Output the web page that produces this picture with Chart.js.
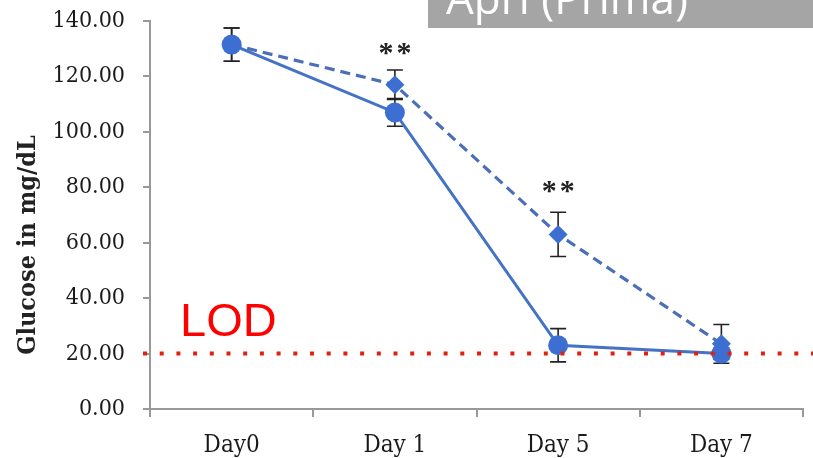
<!DOCTYPE html>
<html>
<head>
    <title>Glucose</title>
    <meta charset="utf-8">
    <style>
        body{ margin:0; background:#fff;}
    </style>
    <script src="https://cdn.jsdelivr.net/npm/chart.js@4.4.0/dist/chart.umd.min.js"></script>
</head>
<body>
    <canvas id="myChart" width="813" height="458"></canvas>

    <script>
        // data
        var days = ['Day0', 'Day 1', 'Day 5', 'Day 7'];
        var solidVals = [131.5, 107, 23, 20];
        var solidErr = [6, 5, 6, 2];
        var dashVals = [131.5, 117, 63, 23.5];
        var dashErr = [6, 5.3, 8, 7];
        var starVals = [null, 130, 80, null];   // where the ** sit
        var yTicks = [0, 20, 40, 60, 80, 100, 120, 140];
        var lodValue = 20;

        var serif = "'DejaVu Serif Condensed', 'Liberation Serif', serif";

        // error bars, drawn under the markers
        const errorBars = {
            id: 'errorBars',
            beforeDatasetsDraw(chart) {
                const ctx = chart.ctx;
                const y = chart.scales.y;
                const sets = [[0, solidVals, solidErr], [1, dashVals, dashErr]];
                ctx.save();
                ctx.strokeStyle = '#222';
                ctx.lineWidth = 1.6;
                sets.forEach(function(s){
                    const meta = chart.getDatasetMeta(s[0]);
                    meta.data.forEach(function(pt, i){
                        const top = y.getPixelForValue(s[1][i] + s[2][i]);
                        const bot = y.getPixelForValue(s[1][i] - s[2][i]);
                        ctx.beginPath();
                        ctx.moveTo(pt.x, top); ctx.lineTo(pt.x, bot);
                        ctx.moveTo(pt.x - 8, top); ctx.lineTo(pt.x + 8, top);
                        ctx.moveTo(pt.x - 8, bot); ctx.lineTo(pt.x + 8, bot);
                        ctx.stroke();
                    });
                });
                ctx.restore();
            }
        };

        // LOD line, stars, labels and the grey box
        const extras = {
            id: 'extras',
            afterDatasetsDraw(chart) {
                const ctx = chart.ctx;
                const x = chart.scales.x;
                const y = chart.scales.y;
                const area = chart.chartArea;
                ctx.save();

                // dotted LOD line
                const ly = y.getPixelForValue(lodValue);
                ctx.strokeStyle = '#e3200f';
                ctx.lineWidth = 4;
                ctx.setLineDash([4, 12.7]);
                ctx.beginPath();
                ctx.moveTo(area.left - 7, ly);
                ctx.lineTo(chart.width, ly);
                ctx.stroke();
                ctx.setLineDash([]);

                ctx.fillStyle = '#ff0000';
                ctx.font = "47px 'Liberation Sans', Arial, sans-serif";
                ctx.textAlign = 'left';
                ctx.textBaseline = 'alphabetic';
                ctx.fillText('LOD', area.left + 30, ly - 18);

                // significance stars
                ctx.fillStyle = '#222';
                ctx.font = "bold 30px 'Liberation Serif', serif";
                ctx.textAlign = 'center';
                starVals.forEach(function(v, i){
                    if (v === null) return;
                    const px = x.getPixelForValue(i);
                    const py = y.getPixelForValue(v) + 13;
                    ctx.fillText('*', px - 9, py);
                    ctx.fillText('*', px + 9, py);
                });

                // y title
                ctx.save();
                ctx.translate(28, 245);
                ctx.rotate(-Math.PI / 2);
                ctx.fillStyle = '#222';
                ctx.font = "bold 25px " + serif;
                ctx.textAlign = 'center';
                ctx.textBaseline = 'middle';
                ctx.fillText('Glucose in mg/dL', 0, 0);
                ctx.restore();

                // grey box top right
                ctx.fillStyle = '#a5a5a5';
                ctx.fillRect(428, 0, chart.width - 428, 28);
                ctx.fillStyle = '#ffffff';
                ctx.font = "44px 'Open Sans', sans-serif";
                ctx.textAlign = 'left';
                ctx.fillText('Apri (Prima)', 446, 14);

                ctx.restore();
            }
        };

        const chartdata = {
            labels: days,
            datasets: [{
                label: 'solid',
                data: solidVals,
                borderColor: '#4472c4',
                backgroundColor: '#3d6fd2',
                borderWidth: 3,
                pointStyle: 'circle',
                pointRadius: 10,
                pointBorderWidth: 0,
                tension: 0
            },
            {
                label: 'dashed',
                data: dashVals,
                borderColor: '#4a6fb8',
                backgroundColor: '#3d6fd2',
                borderWidth: 3.2,
                borderDash: [10, 6],
                pointStyle: 'rectRot',
                pointRadius: 9.5,
                pointBorderWidth: 0,
                tension: 0
            }]
        };

        const config = {
            type: 'line',
            data: chartdata,
            options: {
                animation: false,
                responsive: false,
                layout: { padding: { top: 21, right: 9, left: 0, bottom: 0 } },
                plugins: { legend: { display: false }, tooltip: { enabled: false } },
                scales: {
                    x: {
                        offset: true,
                        grid: { offset: true, drawOnChartArea: false, drawTicks: true, tickLength: 8, color: '#999', lineWidth: 2 },
                        border: { display: true, color: '#999', width: 2 },
                        ticks: { color: '#1a1a1a', padding: 14, font: { family: serif, size: 24 } },
                        afterFit: function(s){ s.height = 49; s.paddingLeft = 0; s.paddingRight = 0; }
                    },
                    y: {
                        min: 0,
                        max: 140,
                        afterBuildTicks: function(s){ s.ticks = yTicks.map(function(v){ return { value: v }; }); },
                        grid: { drawOnChartArea: false, drawTicks: true, tickLength: 7, color: '#999', lineWidth: 2 },
                        border: { display: true, color: '#999', width: 2 },
                        ticks: {
                            color: '#1a1a1a',
                            padding: 18,
                            font: { family: serif, size: 23 },
                            callback: function(v){ return Number(v).toFixed(2); }
                        },
                        afterFit: function(s){ s.width = 150; s.paddingTop = 0; s.paddingBottom = 0; }
                    }
                }
            },
            plugins: [errorBars, extras]
        };

        var myChart = new Chart(document.getElementById('myChart'), config);
    </script>
</body>
</html>
